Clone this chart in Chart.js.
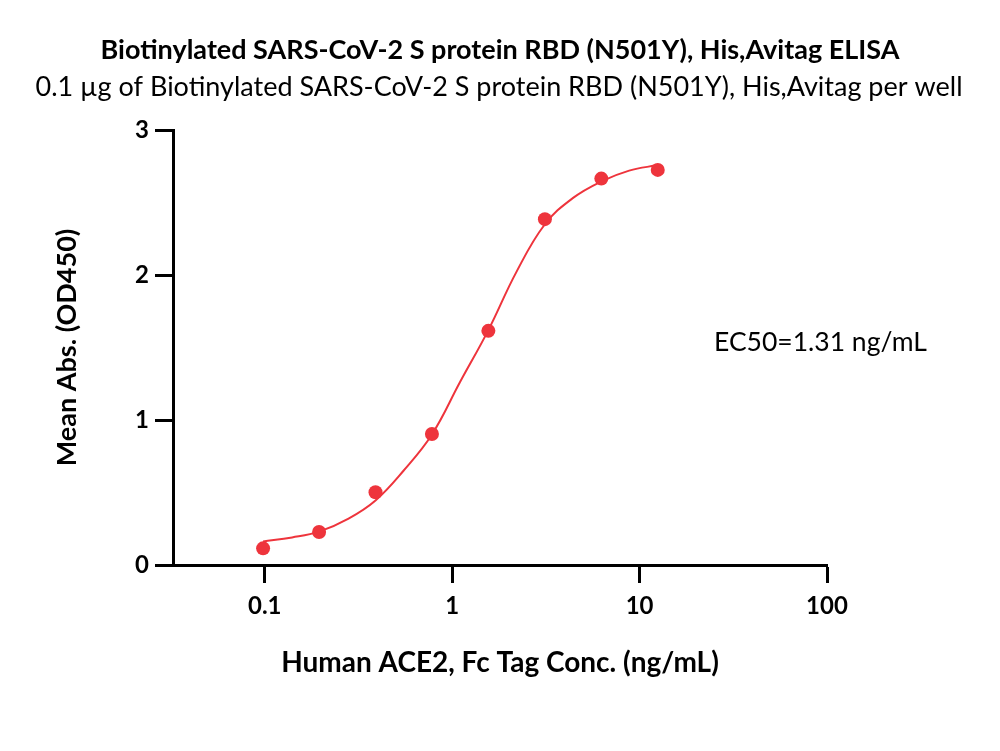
<!DOCTYPE html>
<html>
<head>
<meta charset="utf-8">
<script src="https://cdn.jsdelivr.net/npm/chart.js@4"></script>
<style>
  html, body { margin: 0; padding: 0; background: #fff; }
  #wrap { width: 1000px; height: 751px; }
</style>
</head>
<body>
<div id="wrap"><canvas id="mycanvas" width="1000" height="751"></canvas></div>
<script>
// measured points (ng/mL, OD450)
var conc = [0.098, 0.195, 0.39, 0.78, 1.56, 3.125, 6.25, 12.5];
var absMean = [0.115, 0.228, 0.502, 0.903, 1.615, 2.385, 2.665, 2.725];

// fitted curve
var fitConc = [0.098, 0.14, 0.195, 0.28, 0.39, 0.55, 0.78, 1.1, 1.56, 2.2, 3.125, 4.4, 6.25, 8.8, 12.5];
var fitAbs = [0.162, 0.19, 0.23, 0.32, 0.445, 0.65, 0.90, 1.26, 1.62, 2.02, 2.35, 2.53, 2.645, 2.72, 2.758];

var xTicks = [0.1, 1, 10, 100];
var yTicks = [0, 1, 2, 3];

var title = 'Biotinylated SARS-CoV-2 S protein RBD (N501Y), His,Avitag ELISA';
var subtitle = '0.1 \u00b5g of Biotinylated SARS-CoV-2 S protein RBD (N501Y), His,Avitag per well';
var ec50Label = 'EC50=1.31 ng/mL';

var red = 'rgb(238,52,60)';
var fontFam = 'Lato, "Open Sans", sans-serif';

var textPlugin = {
  id: 'texts',
  afterDraw: function(chart) {
    var c = chart.ctx;
    c.save();
    c.fillStyle = '#000';
    c.textAlign = 'center';
    c.textBaseline = 'middle';
    c.font = 'bold 27px ' + fontFam;
    c.fillText(title, 500, 50);
    c.font = '27px ' + fontFam;
    c.fillText(subtitle, 499, 87);
    c.textAlign = 'left';
    c.font = '26.5px ' + fontFam;
    c.fillText(ec50Label, 714, 342);
    c.restore();
  }
};

var ctx = document.getElementById('mycanvas');
var chart = new Chart(ctx, {
  type: 'scatter',
  data: {
    datasets: [
      {
        label: 'fit',
        data: fitConc.map(function(x, i){ return {x: x, y: fitAbs[i]}; }),
        showLine: true,
        borderColor: red,
        borderWidth: 2,
        pointRadius: 0,
        tension: 0.4,
        order: 2
      },
      {
        label: 'data',
        data: conc.map(function(x, i){ return {x: x, y: absMean[i]}; }),
        backgroundColor: red,
        borderColor: red,
        pointRadius: 7,
        pointBorderWidth: 0,
        order: 1
      }
    ]
  },
  options: {
    responsive: false,
    animation: false,
    layout: { padding: { top: 130, right: 173, left: 0, bottom: 0 } },
    plugins: {
      legend: { display: false },
      tooltip: { enabled: false }
    },
    scales: {
      x: {
        type: 'logarithmic',
        min: 0.0324,
        max: 100,
        afterBuildTicks: function(s) { s.ticks = xTicks.map(function(v){ return {value: v}; }); },
        afterFit: function(s) { s.height = 751 - 565; },
        border: { display: true, color: '#000', width: 3 },
        grid: { display: true, drawOnChartArea: false, drawTicks: true, tickLength: 18, tickColor: '#000', tickWidth: 3 },
        ticks: {
          color: '#000',
          padding: 9,
          font: { family: fontFam, size: 24, weight: 'bold' },
          callback: function(v) { return String(v); }
        },
        title: {
          display: true,
          text: 'Human ACE2, Fc Tag Conc. (ng/mL)',
          color: '#000',
          font: { family: fontFam, size: 28, weight: 'bold' },
          padding: { top: 0, bottom: 71 }
        }
      },
      y: {
        min: 0,
        max: 3,
        afterBuildTicks: function(s) { s.ticks = yTicks.map(function(v){ return {value: v}; }); },
        afterFit: function(s) { s.width = 173; },
        border: { display: true, color: '#000', width: 3 },
        grid: { display: true, drawOnChartArea: false, drawTicks: true, tickLength: 18, tickColor: '#000', tickWidth: 3 },
        ticks: {
          color: '#000',
          padding: 6,
          font: { family: fontFam, size: 24, weight: 'bold' }
        },
        title: {
          display: true,
          text: 'Mean Abs. (OD450)',
          color: '#000',
          font: { family: fontFam, size: 27, weight: 'bold' },
          padding: { top: 51, bottom: 0 }
        }
      }
    }
  },
  plugins: [textPlugin]
});
</script>
</body>
</html>
